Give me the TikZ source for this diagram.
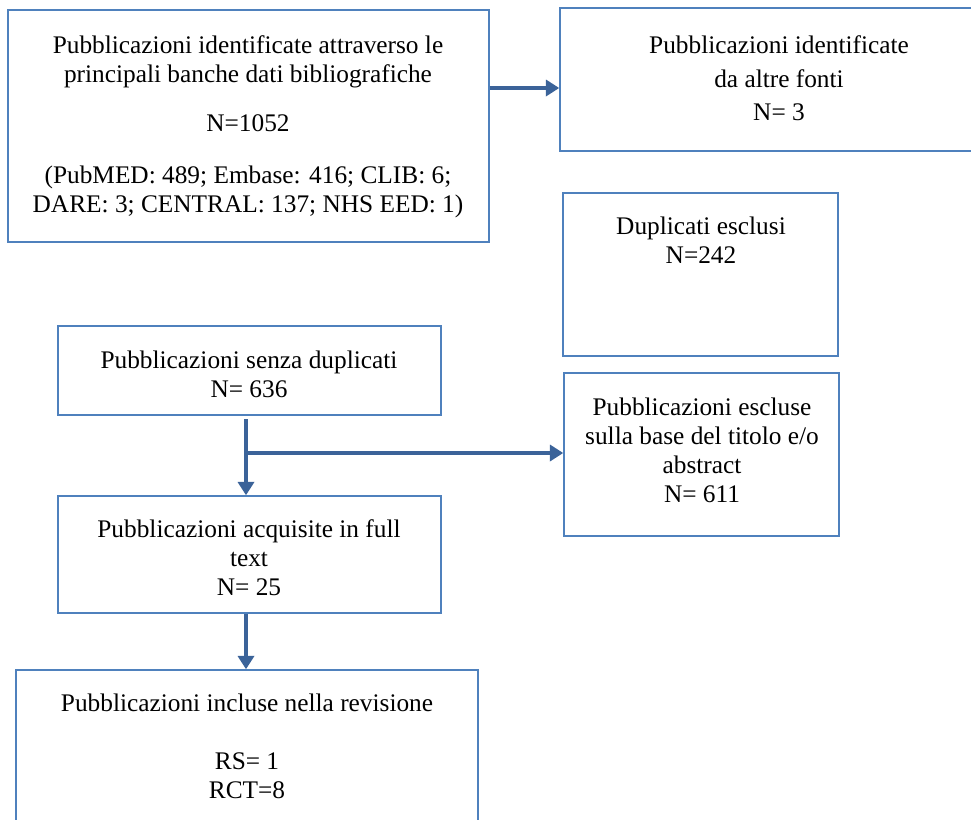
\documentclass[tikz,border=0pt]{standalone}
\usepackage{fontspec}
\setmainfont{Liberation Serif}
\usetikzlibrary{arrows.meta,fit}
\definecolor{boxblue}{RGB}{79,129,189}
\definecolor{arrblue}{RGB}{59,99,153}

\begin{document}
\begin{tikzpicture}[x=0.75pt,y=0.75pt,yscale=-1,xscale=1,
    box/.style={draw=boxblue,line width=1.1pt,inner sep=0pt},
    txt/.style={align=center,inner sep=0pt,font=\fontsize{19}{21.75}\selectfont},
    arr/.style={draw=arrblue,line width=2.6pt,-{Triangle[width=12pt,length=10pt]}}]
\useasboundingbox (0,0) rectangle (971,819);
% boxes
\node [box, fit={(8,10) (489,242)}] (A) {};
\node [box, fit={(560,8) (990,151)}] (B) {};
\node [box, fit={(563,193) (838,356)}] (C) {};
\node [box, fit={(58,326) (441,415)}] (D) {};
\node [box, fit={(564,373) (839,536)}] (E) {};
\node [box, fit={(58,496) (441,613)}] (F) {};
\node [box, fit={(16,670) (478,840)}] (G) {};
% texts
\node [txt] (At) at (248,127) {Pubblicazioni identificate attraverso le\\ principali banche dati bibliografiche\\[15pt] N=1052\\[17pt] (PubMED: 489; Embase: 416; CLIB: 6;\\ DARE: 3; CENTRAL: 137; NHS EED: 1)};
\node [txt] (Bt) at (779,78) {Pubblicazioni identificate\\[4pt] da altre fonti\\[3pt] N= 3};
\node [txt] (Ct) at (701,240) {Duplicati esclusi\\ N=242};
\node [txt] (Dt) at (249,374) {Pubblicazioni senza duplicati\\ N= 636};
\node [txt] (Et) at (702,450) {Pubblicazioni escluse\\ sulla base del titolo e/o\\ abstract\\ N= 611};
\node [txt] (Ft) at (249,558) {Pubblicazioni acquisite in full\\ text\\ N= 25};
\node [txt] (Gt) at (247,746) {Pubblicazioni incluse nella revisione\\ \mbox{}\\ RS= 1\\ RCT=8};
% connectors
\coordinate (lnk) at (0,88);
\coordinate (trunk) at (246,419);
\coordinate (split) at (246,453);
\draw [arr] (A.east |- lnk) -- (B.west |- lnk);
\draw [arr] (trunk) -- (trunk |- F.north);
\draw [arr] (split) -- (E.west |- split);
\draw [arr] (trunk |- F.south) -- (trunk |- G.north);
\end{tikzpicture}
\end{document}
